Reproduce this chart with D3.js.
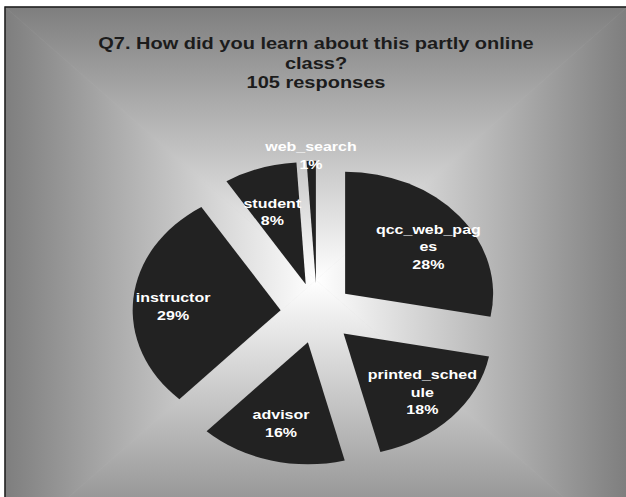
<!DOCTYPE html>
<html>
<head>
<meta charset="utf-8">
<script src="https://cdn.jsdelivr.net/npm/d3@7/dist/d3.min.js"></script>
<style>
  html, body { margin: 0; padding: 0; background: #ffffff; }
  svg { display: block; }
  text { font-family: "Liberation Sans", Arial, sans-serif; font-weight: bold; }
</style>
</head>
<body>
<svg id="chart" width="626" height="497"></svg>
<script>
// Survey answers, clockwise from 12 o'clock
const categories = ["qcc_web_pages", "printed_schedule", "advisor", "instructor", "student", "web_search"];
const percents = [28, 18, 16, 29, 8, 1];
// Data label rows as wrapped inside the slices
const labelRows = [["qcc_web_pag", "es"], ["printed_sched", "ule"], ["advisor"], ["instructor"], ["student"], ["web_search"]];
const titleLines = ["Q7. How did you learn about this partly online", "class?", "105 responses"];

const W = 626, H = 497;
const svg = d3.select("#chart");
const defs = svg.append("defs");

// ---- chart area: rectangular "from center" gradient, gray edges to white center
const area = { l: 5, t: 7, r: 627, b: 553 };
const gc = { x: 316, y: 280 };
const edgeGray = "#7e7e7e";

function grad(id, x1, y1, x2, y2) {
  const g = defs.append("linearGradient").attr("id", id)
    .attr("gradientUnits", "userSpaceOnUse")
    .attr("x1", x1).attr("y1", y1).attr("x2", x2).attr("y2", y2);
  g.append("stop").attr("offset", 0).attr("stop-color", edgeGray);
  g.append("stop").attr("offset", 1).attr("stop-color", "#ffffff");
}
grad("gTop", gc.x, area.t, gc.x, gc.y);
grad("gBot", gc.x, area.b, gc.x, gc.y);
grad("gLeft", area.l, gc.y, gc.x, gc.y);
grad("gRight", area.r, gc.y, gc.x, gc.y);

const bg = svg.append("g");
bg.append("rect").attr("x", area.l).attr("y", area.t)
  .attr("width", area.r - area.l).attr("height", area.b - area.t).attr("fill", "#c0c0c0");
const tri = [
  ["gTop",   [[area.l, area.t], [area.r, area.t], [gc.x, gc.y]]],
  ["gBot",   [[area.l, area.b], [area.r, area.b], [gc.x, gc.y]]],
  ["gLeft",  [[area.l, area.t], [area.l, area.b], [gc.x, gc.y]]],
  ["gRight", [[area.r, area.t], [area.r, area.b], [gc.x, gc.y]]]
];
bg.selectAll("polygon").data(tri).join("polygon")
  .attr("points", d => d[1].map(p => p.join(",")).join(" "))
  .attr("fill", d => `url(#${d[0]})`)
  .attr("stroke", d => `url(#${d[0]})`)
  .attr("stroke-width", 0.6);

// frame line on the visible top and left edges
svg.append("path")
  .attr("d", `M${area.l},${H} V${area.t} H${W}`)
  .attr("fill", "none").attr("stroke", "#1c1c1c").attr("stroke-width", 1.5);

// ---- title
const title = svg.append("g").attr("fill", "#1c1c1c");
const titleBase = [49, 68.5, 88];
titleLines.forEach((t, i) => {
  title.append("text")
    .attr("transform", `translate(316,${titleBase[i]}) scale(1,0.825)`)
    .attr("text-anchor", "middle")
    .attr("font-size", 20)
    .text(t);
});

// ---- exploded pie, drawn as an ellipse (vertical scale)
const cx = 317, cy = 313, R = 148, sy = 0.825, explode = 36.5;
const pie = d3.pie().sort(null).value(d => d)(percents);
const arc = d3.arc().innerRadius(0).outerRadius(R);
const mid = d => (d.startAngle + d.endAngle) / 2;

const pieG = svg.append("g").attr("transform", `translate(${cx},${cy}) scale(1,${sy})`);
pieG.selectAll("path").data(pie).join("path")
  .attr("transform", d => `translate(${Math.sin(mid(d)) * explode},${-Math.cos(mid(d)) * explode})`)
  .attr("d", arc)
  .attr("fill", "#222222");

// ---- data labels: category name + rounded share
const total = d3.sum(percents);
const lineGap = 17.5;
const labelK = 0.73, labelSy = 0.741, labelDy = 3.4;
const labels = svg.append("g").attr("fill", "#ffffff");
pie.forEach((d, i) => {
  const frac = percents[i] / total;
  const a = mid(d);
  // tip of the exploded slice
  const tipX = cx + Math.sin(a) * explode;
  const tipY = cy - Math.cos(a) * explode * sy;
  let x, y;
  if (frac < 0.03) {
    // too thin for text: label sits just beyond the rim
    x = tipX + Math.sin(a) * 1.05 * R;
    y = tipY - Math.cos(a) * 1.05 * R * sy;
  } else {
    x = tipX + Math.sin(a) * labelK * R;
    y = tipY - Math.cos(a) * labelK * R * labelSy + labelDy;
  }
  const rows = labelRows[i].concat([Math.round(frac * 100) + "%"]);
  const top = y - (rows.length - 1) / 2 * lineGap + 5;
  rows.forEach((t, j) => {
    labels.append("text")
      .attr("transform", `translate(${x},${top + j * lineGap}) scale(1,${sy})`)
      .attr("text-anchor", "middle")
      .attr("font-size", 16)
      .text(t);
  });
});
</script>
</body>
</html>
